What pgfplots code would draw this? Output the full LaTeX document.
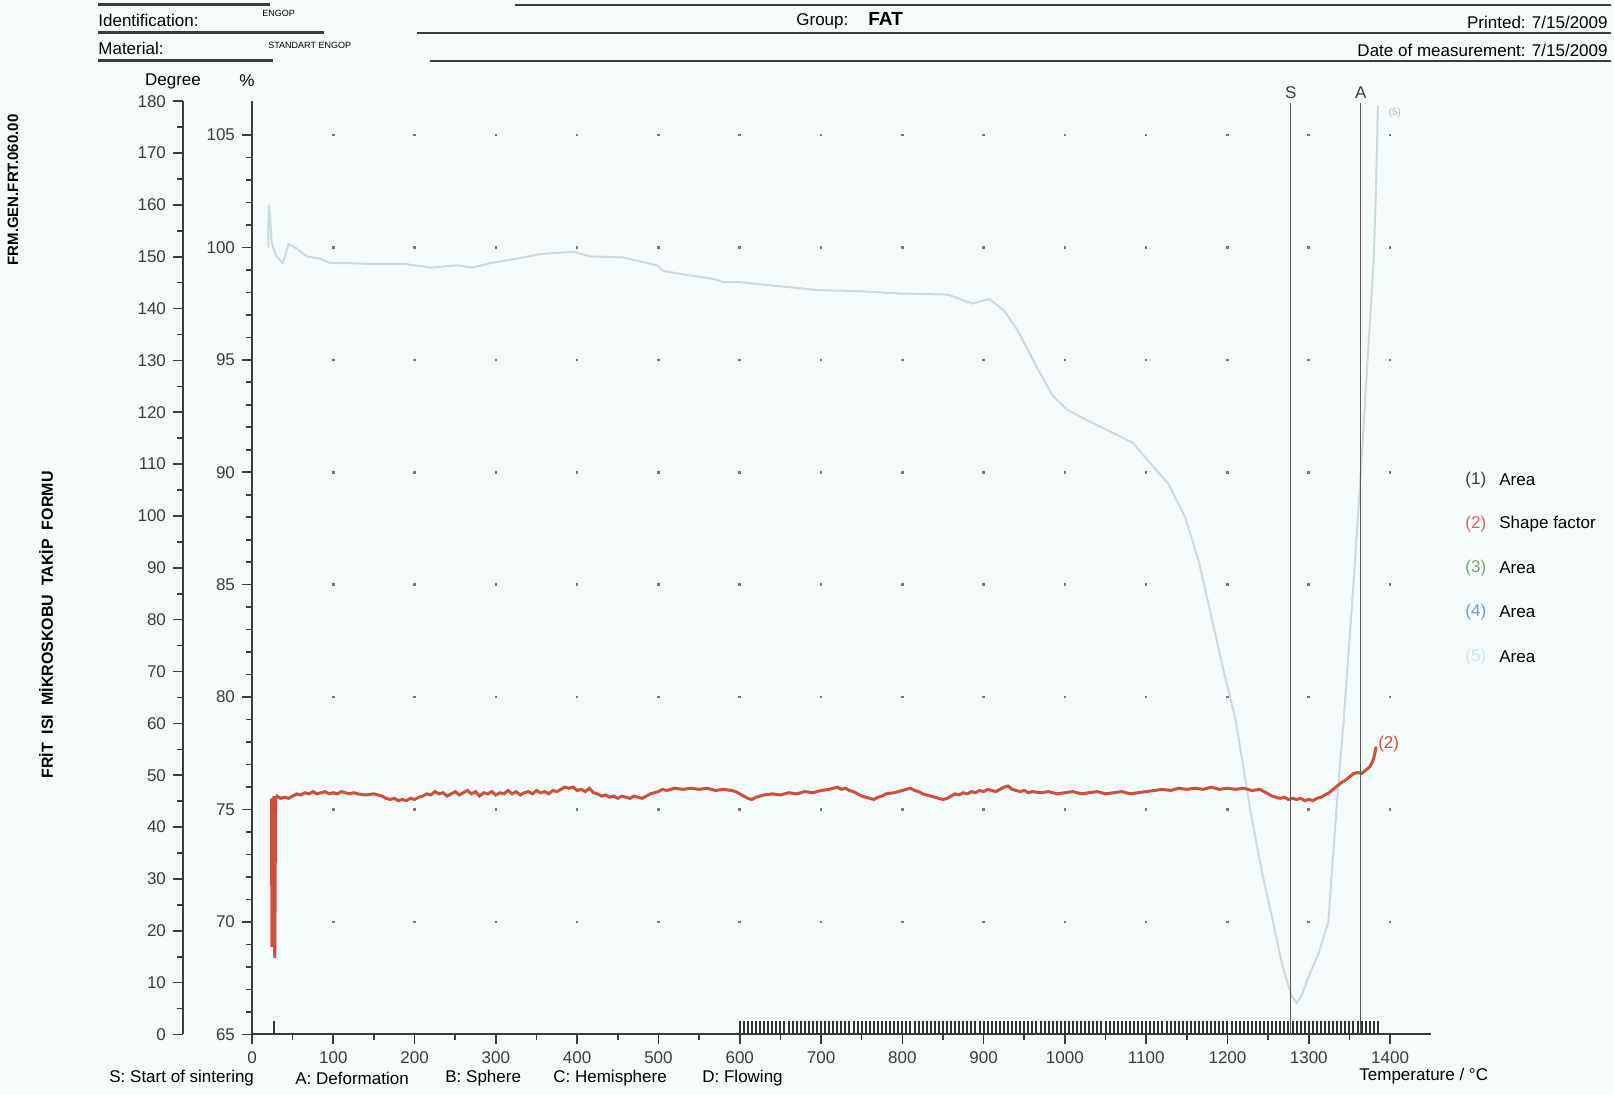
\documentclass[border=0pt]{standalone}
\usepackage{pgfplots}
\pgfplotsset{compat=1.18}
\usepackage{fontspec}
\setmainfont{Liberation Sans}
\definecolor{bg}{RGB}{245,251,251}
\definecolor{axc}{RGB}{60,60,60}
\definecolor{redc}{RGB}{205,80,60}
\definecolor{lightc}{RGB}{203,218,218}
\definecolor{legred}{RGB}{215,100,80}
\definecolor{leggreen}{RGB}{120,170,100}
\definecolor{legblue}{RGB}{100,160,200}
\definecolor{leglight}{RGB}{205,228,228}
\definecolor{dotc}{RGB}{120,120,120}

\begin{document}
\begin{tikzpicture}[font=\fontsize{8.5}{10}\selectfont]
\begin{scope}[x=0.5pt,y=-0.5pt,shift={(0pt,547.5pt)}]
 \fill[bg] (0,0) rectangle (1614,1095);
 % header lines
 \draw[axc, line width=1.5pt] (98,5) -- (270,5);
 \draw[axc, line width=1pt] (515,5) -- (1611,5);
 \draw[axc, line width=1.5pt] (98,33) -- (324,33);
 \draw[axc, line width=1.1pt] (417,33) -- (1611,33);
 \draw[axc, line width=1.5pt] (98,61) -- (273,61);
 \draw[axc, line width=1.1pt] (430,61) -- (1611,61);
 % header texts
 \node[anchor=west, inner sep=0] at (98,20) {Identification:};
 \node[anchor=west, inner sep=0, font=\fontsize{4.5}{5}\selectfont] at (262,13) {ENGOP};
 \node[anchor=west, inner sep=0] at (98,48) {Material:};
 \node[anchor=west, inner sep=0, font=\fontsize{4.5}{5}\selectfont] at (268,45) {STANDART ENGOP};
 \node[anchor=west, inner sep=0] at (796,21) {Group:};
 \node[anchor=west, inner sep=0, font=\bfseries\fontsize{9.5}{11}\selectfont] at (868,19) {FAT};
 \node[anchor=east, inner sep=0] at (1608,22) {Printed: 7/15/2009};
 \node[anchor=east, inner sep=0] at (1608,50) {Date of measurement: 7/15/2009};
 % axis headers
 \node[inner sep=0] at (173,81) {Degree};
 \node[inner sep=0] at (247,81) {\%};
 % side texts
 \node[rotate=90, inner sep=0, font=\bfseries\fontsize{7.5}{9}\selectfont] at (13,190) {FRM.GEN.FRT.060.00};
 \node[rotate=90, inner sep=0, font=\bfseries\fontsize{8}{9}\selectfont] at (46,625) {FRİT\ \ ISI\ \ MİKROSKOBU\ \ TAKİP\ \ FORMU};
 % bottom legend of characteristic points
 \node[anchor=west, inner sep=0] at (109,1078) {S: Start of sintering};
 \node[anchor=west, inner sep=0] at (295,1078) {A: Deformation};
 \node[anchor=west, inner sep=0] at (445,1078) {B: Sphere};
 \node[anchor=west, inner sep=0] at (553,1078) {C: Hemisphere};
 \node[anchor=west, inner sep=0] at (702,1078) {D: Flowing};
 \node[anchor=west, inner sep=0] at (1359,1076) {Temperature / °C};
 % legend
 \node[anchor=west, inner sep=0, text=axc] at (1465,480) {(1)};
 \node[anchor=west, inner sep=0] at (1499,480) {Area};
 \node[anchor=west, inner sep=0, text=legred] at (1465,524) {(2)};
 \node[anchor=west, inner sep=0] at (1499,524) {Shape factor};
 \node[anchor=west, inner sep=0, text=leggreen] at (1465,568) {(3)};
 \node[anchor=west, inner sep=0] at (1499,568) {Area};
 \node[anchor=west, inner sep=0, text=legblue] at (1465,612) {(4)};
 \node[anchor=west, inner sep=0] at (1499,612) {Area};
 \node[anchor=west, inner sep=0, text=leglight] at (1465,657) {(5)};
 \node[anchor=west, inner sep=0] at (1499,657) {Area};
\end{scope}

% Degree axis
\begin{axis}[at={(91.5pt,30.25pt)}, anchor=south west, scale only axis,
  width=10pt, height=466.65pt, xmin=0, xmax=1, ymin=0, ymax=180,
  axis y line*=left, axis x line=none,
  axis line style={axc, line width=1pt, -},
  ytick={0,10,...,180}, minor y tick num=1, tick align=outside,
  major tick length=5pt, minor tick length=3pt,
  tick style={axc, line width=0.8pt},
  yticklabel style={font=\fontsize{8.5}{10}\selectfont, text=axc},
  /pgf/number format/assume math mode=true]
\end{axis}

% Main % axis
\begin{axis}[at={(126pt,30.25pt)}, anchor=south west, scale only axis,
  width=589.35pt, height=466.65pt,
  xmin=0, xmax=1450, ymin=65, ymax=106.5,
  axis x line*=bottom, axis y line*=left,
  axis line style={axc, line width=1pt, -},
  xtick={0,100,...,1400}, minor x tick num=1,
  ytick={65,70,...,105}, minor y tick num=4,
  tick align=outside, major tick length=5pt, minor tick length=3pt,
  tick style={axc, line width=0.8pt},
  ticklabel style={font=\fontsize{8.5}{10}\selectfont, text=axc},
  /pgf/number format/assume math mode=true,
  /pgf/number format/set thousands separator={},
  xmajorgrids=true,
  major grid style={dotc, line width=1.3pt, dash pattern=on 1.3pt off 54.92pt, dash phase=0.65pt},
  extra x ticks={27,600,605,...,1385},
  extra x tick labels={},
  extra x tick style={grid=none, tick align=inside, major tick length=6.5pt, tick style={black!80, line width=1pt}},
  clip=false]

% (5) Area - light curve
\addplot[lightc, line width=1pt] coordinates {
(20,100.0) (20.5,101.9) (22,101.5) (24,100.3) (26,100.0) (30,99.6) (38,99.3)
(45,100.15) (55,99.95) (67,99.6) (84,99.5) (96,99.3) (120,99.3) (150,99.25)
(190,99.25) (220,99.1) (252,99.2) (272,99.1) (293,99.3) (326,99.5) (354,99.7)
(395,99.8) (416,99.6) (457,99.55) (498,99.2) (506,98.95) (539,98.75) (567,98.6)
(580,98.45) (600,98.45) (641,98.3) (697,98.1) (748,98.05) (796,97.95) (856,97.9)
(886,97.5) (907,97.7) (925,97.2) (942,96.3) (955,95.4) (968,94.5) (985,93.4)
(1002,92.8) (1028,92.3) (1062,91.7) (1084,91.3) (1105,90.4) (1127,89.5)
(1148,88.0) (1165,86.0) (1180,83.6) (1195,81.2) (1210,79.0) (1228,75.0)
(1242,72.3) (1256,70.0) (1268,68.0) (1279,66.7) (1285,66.4) (1292,66.8)
(1300,67.6) (1312,68.6) (1324,70.0) (1334,75.0) (1343,79.0) (1354,84.5)
(1364,90.0) (1374,96.0) (1380,99.5) (1383,103.0) (1385,106.3)
};

% (2) Shape factor - red curve
\addplot[redc, line width=1.5pt] coordinates {
(24,75.5) (24.5,68.9) (25,75.3) (26,69.6) (27,75.6) (28,68.4) (29,75.5) (31,75.6)
(35,75.5) (40,75.55) (45,75.5) (50,75.6) (55,75.7) (60,75.65) (65,75.75) (70,75.7)
(75,75.8) (80,75.7) (85,75.75) (90,75.8) (95,75.7) (100,75.75) (105,75.7) (110,75.8)
(115,75.75) (120,75.7) (125,75.75) (130,75.7) (140,75.65) (150,75.7) (160,75.6)
(165,75.5) (170,75.45) (175,75.5) (180,75.4) (185,75.45) (190,75.4) (195,75.5)
(200,75.45) (205,75.55) (210,75.6) (215,75.7) (220,75.65) (225,75.8) (230,75.7)
(235,75.75) (240,75.6) (245,75.7) (250,75.8) (255,75.65) (260,75.75) (265,75.85)
(270,75.7) (275,75.8) (280,75.6) (285,75.75) (290,75.7) (295,75.8) (300,75.65)
(305,75.75) (310,75.7) (315,75.85) (320,75.7) (325,75.8) (330,75.65) (335,75.75)
(340,75.8) (345,75.7) (350,75.85) (355,75.75) (360,75.8) (365,75.7) (370,75.85)
(375,75.8) (380,75.9) (385,76.0) (390,75.95) (395,76.0) (400,75.85) (405,75.9)
(410,75.8) (415,75.95) (420,75.75) (425,75.7) (430,75.6) (435,75.65) (440,75.55)
(445,75.6) (450,75.5) (455,75.6) (460,75.55) (465,75.5) (470,75.6) (475,75.55)
(480,75.5) (485,75.6) (490,75.7) (495,75.75) (500,75.8) (505,75.9) (510,75.85)
(520,75.95) (530,75.9) (540,75.95) (550,75.9) (560,75.95) (570,75.85) (580,75.9)
(590,75.85) (595,75.8) (600,75.7) (605,75.6) (610,75.5) (615,75.45) (620,75.55)
(625,75.6) (630,75.65) (640,75.7) (650,75.65) (660,75.75) (670,75.7) (680,75.8)
(690,75.75) (700,75.85) (710,75.9) (715,75.95) (720,76.0) (725,75.9) (730,75.95)
(735,75.85) (740,75.8) (745,75.7) (750,75.6) (755,75.55) (760,75.5) (765,75.45)
(770,75.55) (775,75.6) (780,75.7) (790,75.75) (800,75.85) (805,75.9) (810,75.95)
(815,75.85) (820,75.8) (825,75.7) (830,75.65) (835,75.6) (840,75.55) (845,75.5)
(850,75.45) (855,75.5) (860,75.6) (865,75.7) (870,75.65) (875,75.75) (880,75.7)
(885,75.8) (890,75.75) (895,75.85) (900,75.8) (905,75.9) (910,75.85) (915,75.8)
(920,75.9) (925,76.0) (930,76.05) (935,75.9) (940,75.85) (945,75.8) (950,75.85)
(955,75.75) (960,75.8) (970,75.75) (980,75.8) (990,75.7) (1000,75.75) (1010,75.8)
(1020,75.7) (1030,75.75) (1040,75.8) (1050,75.7) (1060,75.75) (1070,75.8)
(1080,75.7) (1090,75.75) (1100,75.8) (1110,75.85) (1120,75.9) (1130,75.85)
(1140,75.95) (1150,75.9) (1160,75.95) (1170,75.9) (1180,76.0) (1190,75.9)
(1200,75.95) (1210,75.9) (1220,75.95) (1230,75.85) (1240,75.9) (1245,75.8)
(1250,75.7) (1255,75.6) (1260,75.55) (1265,75.5) (1270,75.55) (1275,75.45)
(1280,75.5) (1285,75.45) (1290,75.5) (1295,75.4) (1300,75.45) (1305,75.4)
(1310,75.5) (1315,75.55) (1320,75.65) (1325,75.75) (1330,75.9) (1335,76.05)
(1340,76.2) (1345,76.3) (1350,76.45) (1355,76.6) (1360,76.65) (1365,76.6)
(1370,76.75) (1375,76.9) (1378,77.1) (1380,77.3) (1383,77.8)
};

% characteristic temperatures S and A
\addplot[gray!70!black, line width=0.6pt] coordinates {(1278,65) (1278,106.4)};
\addplot[gray!70!black, line width=0.6pt] coordinates {(1364,65) (1364,106.4)};
\node[anchor=south, inner sep=1pt, text=axc] at (axis cs:1278,106.5) {S};
\node[anchor=south, inner sep=1pt, text=axc] at (axis cs:1364,106.5) {A};
\node[anchor=west, inner sep=0, text=redc] at (axis cs:1385,77.9) {(2)};
\node[anchor=west, inner sep=0, text=gray!55, font=\fontsize{5}{6}\selectfont] at (axis cs:1398,106.0) {(5)};
\end{axis}
\pgfresetboundingbox
\useasboundingbox (0,0) rectangle (807pt,547.5pt);
\end{tikzpicture}
\end{document}
